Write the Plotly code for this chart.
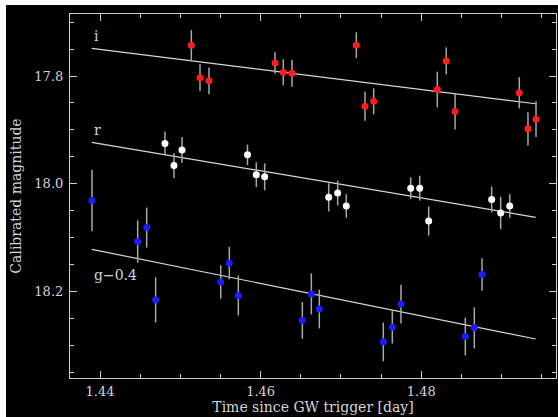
import plotly.graph_objects as go

# ---- data ----
t_i = [1.45137, 1.45245, 1.45357, 1.46179, 1.46282, 1.46390, 1.47191, 1.47299,
       1.47407, 1.48199, 1.48311, 1.48420, 1.49220, 1.49328, 1.49428]
m_i = [17.743, 17.803, 17.809, 17.776, 17.793, 17.795, 17.743, 17.856,
       17.847, 17.825, 17.772, 17.866, 17.831, 17.898, 17.880]
e_i = [0.028, 0.025, 0.025, 0.020, 0.024, 0.025, 0.024, 0.027,
       0.024, 0.033, 0.025, 0.033, 0.029, 0.031, 0.033]

t_r = [1.44809, 1.44921, 1.45021, 1.45836, 1.45946, 1.46050, 1.46847, 1.46959,
       1.47066, 1.47868, 1.47980, 1.48092, 1.48876, 1.48988, 1.49101]
m_r = [17.925, 17.966, 17.937, 17.946, 17.983, 17.987, 18.025, 18.017,
       18.041, 18.008, 18.008, 18.069, 18.029, 18.054, 18.041]
e_r = [0.022, 0.023, 0.024, 0.019, 0.023, 0.025, 0.026, 0.023,
       0.022, 0.020, 0.023, 0.027, 0.024, 0.030, 0.022]

t_g = [1.43900, 1.44469, 1.44581, 1.44693, 1.45503, 1.45610, 1.45722, 1.46519,
       1.46631, 1.46730, 1.47527, 1.47639, 1.47747, 1.48548, 1.48660, 1.48756]
m_g = [18.031, 18.107, 18.081, 18.215, 18.182, 18.147, 18.207, 18.253,
       18.204, 18.232, 18.293, 18.266, 18.223, 18.283, 18.267, 18.168]
e_g = [0.057, 0.039, 0.037, 0.042, 0.031, 0.030, 0.037, 0.034,
       0.038, 0.036, 0.036, 0.030, 0.036, 0.035, 0.038, 0.030]

fit_t = [1.43897, 1.49424]
fit_i = [17.7486, 17.8514]
fit_r = [17.9229, 18.0620]
fit_g = [18.1214, 18.2877]

band_labels = ["i", "r", "g\u22120.4"]
label_t = 1.4390
label_m = [17.7258, 17.9001, 18.1690]

x_ticks = [1.44, 1.46, 1.48]
y_ticks = [17.8, 18.0, 18.2]

# ---- figure ----
W, H = 558, 417
L, R, T, B = 70, 2, 14, 39
pw, ph = W - L - R, H - T - B

FONT = "DejaVu Serif"
TXT = "#d4d4d4"

fig = go.Figure()

for fm in (fit_i, fit_r, fit_g):
    fig.add_trace(go.Scatter(x=fit_t, y=fm, mode="lines",
                             line=dict(color="#d8d8d8", width=1.2),
                             hoverinfo="skip", showlegend=False))

for t, m, e, c in ((t_i, m_i, e_i, "#ff1c1c"),
                   (t_r, m_r, e_r, "#ffffff"),
                   (t_g, m_g, e_g, "#1c1cff")):
    fig.add_trace(go.Scatter(
        x=t, y=m, mode="markers",
        marker=dict(color=c, size=7, line=dict(width=0)),
        error_y=dict(type="data", array=e, visible=True, color="#a8a8a8",
                     thickness=1.5, width=0),
        showlegend=False))

for lab, lm in zip(band_labels, label_m):
    fig.add_annotation(x=label_t, y=lm, text=lab, showarrow=False,
                       xanchor="left", yanchor="middle",
                       font=dict(family=FONT, size=14, color=TXT))

# black panel with the thin white strips at the top/left edges
fig.add_shape(type="rect", xref="paper", yref="paper", layer="below",
              x0=(6 - L) / pw, x1=(W - L) / pw,
              y0=(T + ph - H) / ph, y1=(T + ph - 5) / ph,
              fillcolor="black", line=dict(width=0))

axis_common = dict(
    showline=True, linecolor="#cfcfcf", linewidth=1.2, mirror="ticks",
    ticks="inside", ticklen=7, tickwidth=1.2, tickcolor="#cfcfcf",
    showgrid=False, zeroline=False,
    tickfont=dict(family=FONT, size=13, color=TXT),
)

fig.update_xaxes(
    range=[1.436265, 1.496769], tickvals=x_ticks,
    ticktext=[f"{v:.2f}" for v in x_ticks],
    minor=dict(dtick=0.005, tick0=1.44, ticks="inside", ticklen=4,
               tickcolor="#cfcfcf", tickwidth=1.2, showgrid=False),
    title=dict(text="Time since GW trigger [day]", standoff=3,
               font=dict(family=FONT, size=14, color=TXT)),
    ticklabelstandoff=1,
    **axis_common)

fig.update_yaxes(
    range=[18.36, 17.685], tickvals=y_ticks,
    ticktext=[f"{v:.1f}" for v in y_ticks],
    minor=dict(dtick=0.05, tick0=17.8, ticks="inside", ticklen=4,
               tickcolor="#cfcfcf", tickwidth=1.2, showgrid=False),
    title=dict(text="Calibrated magnitude", standoff=9,
               font=dict(family=FONT, size=14, color=TXT)),
    ticklabelstandoff=3,
    **axis_common)

fig.update_layout(
    width=W, height=H, autosize=False,
    margin=dict(l=L, r=R, t=T, b=B, pad=0),
    paper_bgcolor="white", plot_bgcolor="black",
    showlegend=False,
)

fig.write_html("out.html")
